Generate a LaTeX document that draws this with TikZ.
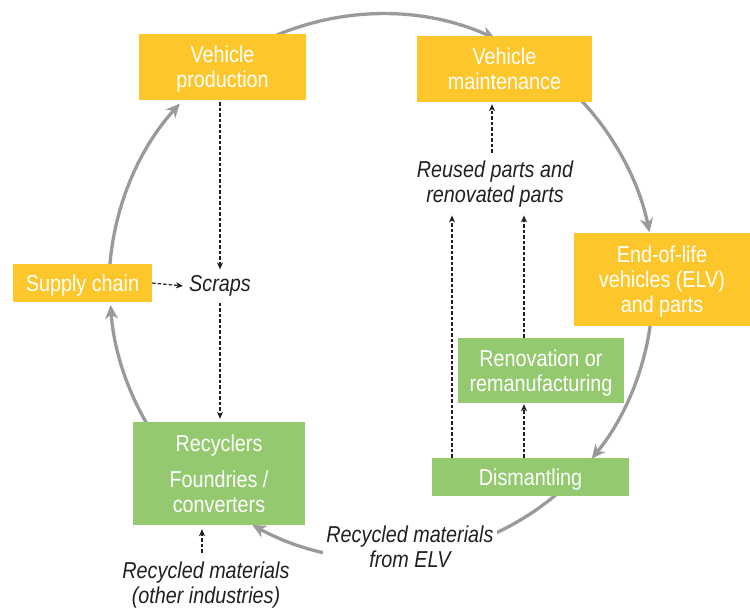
\documentclass[tikz,border=0pt]{standalone}
\usepackage{fontspec}
\setmainfont[FakeStretch=0.86]{Liberation Sans}
\usetikzlibrary{arrows.meta,calc}
\definecolor{boxyellow}{HTML}{FDC62A}
\definecolor{boxgreen}{HTML}{94C96F}
\definecolor{arcgray}{HTML}{9A9A9A}
\definecolor{txtdark}{HTML}{231F20}
\begin{document}
\begin{tikzpicture}[x=1pt,y=1pt,
  box/.style={rectangle,inner sep=0pt,text=white,align=center,text depth=-1.5pt,font=\fontsize{23}{25}\selectfont},
  ybox/.style={box,fill=boxyellow},
  gbox/.style={box,fill=boxgreen},
  lbl/.style={text=txtdark,align=center,font=\fontsize{23}{25}\selectfont\itshape,inner sep=6pt},
  cyc/.style={draw=arcgray,line width=3.3pt,-{Stealth[length=14pt,width=13pt,inset=4.5pt]}},
  dashar/.style={draw=txtdark,line width=1.2pt,dash pattern=on 3.5pt off 2pt,-{Stealth[length=7pt,width=6pt,inset=2pt]}}
]
\useasboundingbox (0,0) rectangle (750,-611);
\coordinate (C) at (382,-287);
% cycle arcs
\draw[cyc] (C) ++(115:273) arc[start angle=115,end angle=65.45,radius=273];
\draw[cyc] (C) ++(43:273) arc[start angle=43,end angle=11.56,radius=273];
\draw[cyc] (C) ++(-7:271) arc[start angle=-7,end angle=-39.3,radius=271];
\draw[cyc] (C) ++(-49.5:271) arc[start angle=-49.5,end angle=-118.6,radius=271];
\draw[cyc] (C) ++(211:272) arc[start angle=211,end angle=183.8,radius=272];
\draw[cyc] (C) ++(177:273) arc[start angle=177,end angle=137.8,radius=273];
% boxes
\node[ybox,minimum width=167pt,minimum height=66pt] (prod) at (222.5,-67) {Vehicle\\production};
\node[ybox,minimum width=175pt,minimum height=66pt] (maint) at (504.5,-69) {Vehicle\\maintenance};
\node[ybox,minimum width=176pt,minimum height=93pt] (elv) at (662,-279.5) {End-of-life\\vehicles (ELV)\\and parts};
\node[ybox,minimum width=139pt,minimum height=38pt] (supply) at (82.5,-283) {Supply chain};
\node[gbox,minimum width=172pt,minimum height=103pt] (recyc) at (219,-473.5) {Recyclers\\[11pt]Foundries /\\converters};
\node[gbox,minimum width=166pt,minimum height=65pt] (renov) at (541,-370.5) {Renovation or\\remanufacturing};
\node[gbox,minimum width=197pt,minimum height=38pt] (dism) at (530.5,-477) {Dismantling};
% labels
\node[lbl] (scraps) at (220,-286) {Scraps};
\node[lbl,inner sep=8pt] (reused) at (495,-184) {Reused parts and\\renovated parts};
\node[lbl,fill=white,inner sep=3pt] (relv) at (410,-547) {Recycled materials\\from ELV};
\node[lbl,inner sep=9pt] (rother) at (206,-585) {Recycled materials\\(other industries)};
% dashed flows
\draw[dashar] ([yshift=-2pt]prod.south -| scraps.north) -- (scraps.north);
\draw[dashar] (scraps.south) -- ([yshift=3pt]recyc.north -| scraps.south);
\draw[dashar] (supply.east) -- (scraps.west);
\draw[dashar] ([xshift=-3pt]reused.north) -- ([xshift=-3pt,yshift=-2pt]reused.north |- maint.south);
\draw[dashar] ([xshift=-78.5pt]dism.north) -- ([xshift=-78.5pt]dism.north |- reused.south);
\draw[dashar] ([xshift=-17pt]renov.north) -- ([xshift=-17pt]renov.north |- reused.south);
\draw[dashar] ([xshift=-6.5pt]dism.north) -- ([xshift=-17pt,yshift=-1pt]renov.south);
\draw[dashar] ([xshift=-4pt]rother.north) -- ([xshift=-4pt,yshift=-4pt]rother.north |- recyc.south);
\end{tikzpicture}
\end{document}
